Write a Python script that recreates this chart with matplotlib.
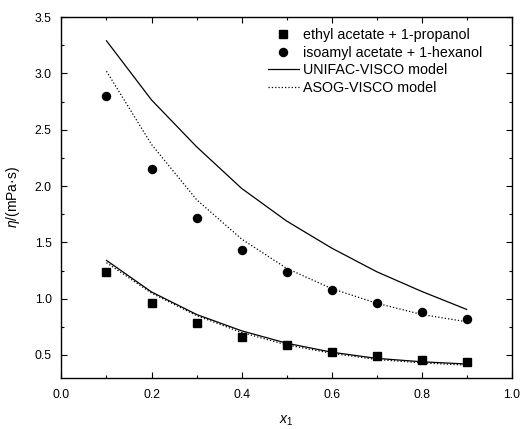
import numpy as np
import matplotlib.pyplot as plt
from matplotlib.ticker import MultipleLocator

plt.rcParams['font.family'] = ['Liberation Sans', 'DejaVu Sans']
plt.rcParams['mathtext.fontset'] = 'custom'
plt.rcParams['mathtext.it'] = 'Liberation Sans:italic'
plt.rcParams['mathtext.rm'] = 'Liberation Sans'

x1 = [0.1, 0.2, 0.3, 0.4, 0.5, 0.6, 0.7, 0.8, 0.9]
ethyl_exp = [1.24, 0.96, 0.78, 0.66, 0.585, 0.53, 0.49, 0.46, 0.435]
isoamyl_exp = [2.80, 2.15, 1.72, 1.43, 1.235, 1.075, 0.96, 0.88, 0.82]
ethyl_unifac = [1.34, 1.06, 0.86, 0.715, 0.605, 0.525, 0.47, 0.44, 0.42]
ethyl_asog = [1.32, 1.05, 0.85, 0.70, 0.59, 0.515, 0.46, 0.43, 0.41]
isoamyl_unifac = [3.29, 2.765, 2.35, 1.98, 1.69, 1.45, 1.24, 1.065, 0.905]
isoamyl_asog = [3.02, 2.37, 1.88, 1.53, 1.27, 1.09, 0.96, 0.86, 0.795]

fig = plt.figure(figsize=(5.21, 4.29), dpi=100)
ax = fig.add_axes([0.118, 0.12, 0.864, 0.84])

ax.plot(x1, ethyl_exp, 's', color='black', ms=5.2, label='ethyl acetate + 1-propanol')
ax.plot(x1, isoamyl_exp, 'o', color='black', ms=5.8, label='isoamyl acetate + 1-hexanol')
ax.plot(x1, ethyl_unifac, '-', color='black', lw=0.9, label='UNIFAC-VISCO model')
ax.plot(x1, ethyl_asog, ':', color='black', lw=0.9, label='ASOG-VISCO model')
ax.plot(x1, isoamyl_unifac, '-', color='black', lw=0.9)
ax.plot(x1, isoamyl_asog, ':', color='black', lw=0.9)

ax.set_xlim(0, 1.0)
ax.set_ylim(0.3, 3.5)
ax.xaxis.set_major_locator(MultipleLocator(0.2))
ax.xaxis.set_minor_locator(MultipleLocator(0.1))
ax.yaxis.set_major_locator(MultipleLocator(0.5))
ax.yaxis.set_minor_locator(MultipleLocator(0.25))
ax.tick_params(which='both', direction='in', top=True, right=True, labelsize=8.8)
ax.tick_params(which='major', length=4, width=0.8)
ax.tick_params(which='minor', length=2.5, width=0.8)
ax.tick_params(axis='y', pad=7)
ax.tick_params(axis='x', pad=8)
ax.set_yticks([0.5, 1.0, 1.5, 2.0, 2.5, 3.0, 3.5])
for s in ax.spines.values():
    s.set_linewidth(1.0)

ax.set_xlabel('$x_1$', fontsize=10)
ax.set_ylabel('$\\eta$/(mPa·s)', fontsize=10)
ax.xaxis.set_label_coords(0.5, -0.1)
ax.yaxis.set_label_coords(-0.088, 0.5)

ax.legend(loc='upper left', bbox_to_anchor=(0.458, 0.97), frameon=False,
          fontsize=10.3, handlelength=2.2, handletextpad=0.25, labelspacing=0.25,
          borderpad=0, borderaxespad=0)

fig.savefig('out.png', dpi=100)
